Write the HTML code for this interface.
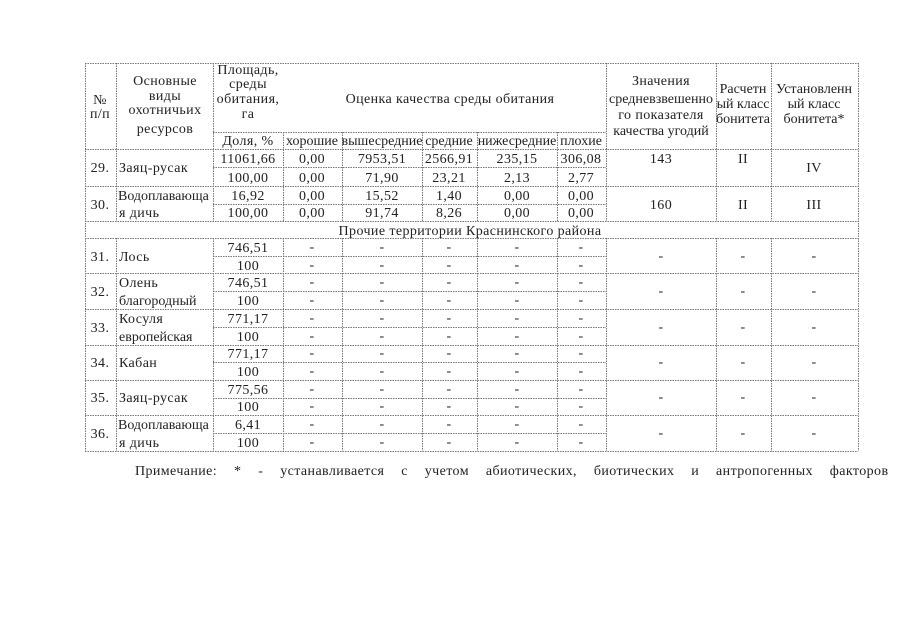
<!DOCTYPE html>
<html><head><meta charset="utf-8"><style>
html,body{margin:0;padding:0;background:#fff;}
svg{display:block;}
text{font-family:"Liberation Serif","DejaVu Serif",serif;font-size:14px;letter-spacing:0.4px;fill:#222;}
.c{text-anchor:middle;}
.t{letter-spacing:0;}
</style></head><body>
<svg width="905" height="640" viewBox="0 0 905 640" xmlns="http://www.w3.org/2000/svg">
<g stroke="#777" stroke-width="1" stroke-dasharray="1.5,1" fill="none">
<path d="M85 63.5H858M85 149.5H858M85 186.5H858M85 221.5H858M85 238.5H858M85 273.5H858M85 309.5H858M85 345.5H858M85 380.5H858M85 415.5H858M85 451.5H858"/>
<path d="M213 132.5H606M213 167.5H606M213 204.5H606M213 256.5H606M213 291.5H606M213 327.5H606M213 362.5H606M213 398.5H606M213 433.5H606"/>
<path d="M85.5 63V451M116.5 63V221M116.5 238V451M213.5 63V221M213.5 238V451M283.5 132V221M283.5 238V451M342.5 132V221M342.5 238V451M422.5 132V221M422.5 238V451M477.5 132V221M477.5 238V451M557.5 132V221M557.5 238V451M606.5 63V221M606.5 238V451M716.5 63V221M716.5 238V451M771.5 63V221M771.5 238V451M858.5 63V451"/>
</g>
<text class="c" x="100" y="104">№</text>
<text class="c" x="100" y="118">п/п</text>
<text class="c" x="165" y="85">Основные</text>
<text class="c" x="165" y="100">виды</text>
<text class="c" x="165" y="114">охотничьих</text>
<text class="c" x="165" y="133">ресурсов</text>
<text class="c" x="248" y="74">Площадь,</text>
<text class="c" x="248" y="88">среды</text>
<text class="c" x="248" y="103">обитания,</text>
<text class="c" x="248" y="118">га</text>
<text class="c" x="248" y="145">Доля, %</text>
<text class="c" x="450" y="103">Оценка качества среды обитания</text>
<text class="c t" x="312" y="145">хорошие</text>
<text class="c t" x="382" y="145">вышесредние</text>
<text class="c t" x="449" y="145">средние</text>
<text class="c t" x="517" y="145">нижесредние</text>
<text class="c t" x="581" y="145">плохие</text>
<text class="c" x="661" y="85">Значения</text>
<text class="c t" x="661" y="103">средневзвешенно</text>
<text class="c" x="661" y="119">го показателя</text>
<text class="c t" x="661" y="135">качества угодий</text>
<text class="c t" x="743" y="93">Расчетн</text>
<text class="c t" x="743" y="108">ый класс</text>
<text class="c t" x="743" y="123">бонитета</text>
<text class="c t" x="814" y="93">Установленн</text>
<text class="c t" x="814" y="108">ый класс</text>
<text class="c t" x="814" y="123">бонитета*</text>
<text class="c" x="100" y="172">29.</text>
<text x="119" y="172">Заяц-русак</text>
<text class="c" x="248" y="163">11061,66</text><text class="c" x="312" y="163">0,00</text><text class="c" x="382" y="163">7953,51</text><text class="c" x="449" y="163">2566,91</text><text class="c" x="517" y="163">235,15</text><text class="c" x="581" y="163">306,08</text>
<text class="c" x="248" y="182">100,00</text><text class="c" x="312" y="182">0,00</text><text class="c" x="382" y="182">71,90</text><text class="c" x="449" y="182">23,21</text><text class="c" x="517" y="182">2,13</text><text class="c" x="581" y="182">2,77</text>
<text class="c" x="661" y="163">143</text><text class="c" x="743" y="163">II</text><text class="c" x="814" y="172">IV</text>
<text class="c" x="100" y="209">30.</text>
<text x="118" y="200" class="t">Водоплавающа</text>
<text x="119" y="217">я дичь</text>
<text class="c" x="248" y="200">16,92</text><text class="c" x="312" y="200">0,00</text><text class="c" x="382" y="200">15,52</text><text class="c" x="449" y="200">1,40</text><text class="c" x="517" y="200">0,00</text><text class="c" x="581" y="200">0,00</text>
<text class="c" x="248" y="217">100,00</text><text class="c" x="312" y="217">0,00</text><text class="c" x="382" y="217">91,74</text><text class="c" x="449" y="217">8,26</text><text class="c" x="517" y="217">0,00</text><text class="c" x="581" y="217">0,00</text>
<text class="c" x="661" y="209">160</text><text class="c" x="743" y="209">II</text><text class="c" x="814" y="209">III</text>
<text class="c" x="470" y="235">Прочие территории Краснинского района</text>
<text class="c" x="100" y="261">31.</text><text x="119" y="261">Лось</text>
<text class="c" x="248" y="252">746,51</text><text class="c" x="248" y="270">100</text>
<text class="c" x="100" y="296">32.</text><text x="119" y="287">Олень</text><text x="119" y="305" class="t">благородный</text>
<text class="c" x="248" y="287">746,51</text><text class="c" x="248" y="305">100</text>
<text class="c" x="100" y="332">33.</text><text x="119" y="323">Косуля</text><text x="119" y="341" class="t">европейская</text>
<text class="c" x="248" y="323">771,17</text><text class="c" x="248" y="341">100</text>
<text class="c" x="100" y="367">34.</text><text x="119" y="367">Кабан</text>
<text class="c" x="248" y="358">771,17</text><text class="c" x="248" y="376">100</text>
<text class="c" x="100" y="402">35.</text><text x="119" y="402">Заяц-русак</text>
<text class="c" x="248" y="394">775,56</text><text class="c" x="248" y="411">100</text>
<text class="c" x="100" y="438">36.</text><text x="118" y="429" class="t">Водоплавающа</text><text x="119" y="447">я дичь</text>
<text class="c" x="248" y="429">6,41</text><text class="c" x="248" y="447">100</text>
<g style="font-size:9px">
<text class="c" x="312" y="251">-</text><text class="c" x="382" y="251">-</text><text class="c" x="449" y="251">-</text><text class="c" x="517" y="251">-</text><text class="c" x="581" y="251">-</text>
<text class="c" x="312" y="269">-</text><text class="c" x="382" y="269">-</text><text class="c" x="449" y="269">-</text><text class="c" x="517" y="269">-</text><text class="c" x="581" y="269">-</text>
<text class="c" x="312" y="286">-</text><text class="c" x="382" y="286">-</text><text class="c" x="449" y="286">-</text><text class="c" x="517" y="286">-</text><text class="c" x="581" y="286">-</text>
<text class="c" x="312" y="304">-</text><text class="c" x="382" y="304">-</text><text class="c" x="449" y="304">-</text><text class="c" x="517" y="304">-</text><text class="c" x="581" y="304">-</text>
<text class="c" x="312" y="322">-</text><text class="c" x="382" y="322">-</text><text class="c" x="449" y="322">-</text><text class="c" x="517" y="322">-</text><text class="c" x="581" y="322">-</text>
<text class="c" x="312" y="340">-</text><text class="c" x="382" y="340">-</text><text class="c" x="449" y="340">-</text><text class="c" x="517" y="340">-</text><text class="c" x="581" y="340">-</text>
<text class="c" x="312" y="357">-</text><text class="c" x="382" y="357">-</text><text class="c" x="449" y="357">-</text><text class="c" x="517" y="357">-</text><text class="c" x="581" y="357">-</text>
<text class="c" x="312" y="375">-</text><text class="c" x="382" y="375">-</text><text class="c" x="449" y="375">-</text><text class="c" x="517" y="375">-</text><text class="c" x="581" y="375">-</text>
<text class="c" x="312" y="393">-</text><text class="c" x="382" y="393">-</text><text class="c" x="449" y="393">-</text><text class="c" x="517" y="393">-</text><text class="c" x="581" y="393">-</text>
<text class="c" x="312" y="410">-</text><text class="c" x="382" y="410">-</text><text class="c" x="449" y="410">-</text><text class="c" x="517" y="410">-</text><text class="c" x="581" y="410">-</text>
<text class="c" x="312" y="428">-</text><text class="c" x="382" y="428">-</text><text class="c" x="449" y="428">-</text><text class="c" x="517" y="428">-</text><text class="c" x="581" y="428">-</text>
<text class="c" x="312" y="446">-</text><text class="c" x="382" y="446">-</text><text class="c" x="449" y="446">-</text><text class="c" x="517" y="446">-</text><text class="c" x="581" y="446">-</text>
<text class="c" x="661" y="260">-</text><text class="c" x="743" y="260">-</text><text class="c" x="814" y="260">-</text>
<text class="c" x="661" y="295">-</text><text class="c" x="743" y="295">-</text><text class="c" x="814" y="295">-</text>
<text class="c" x="661" y="331">-</text><text class="c" x="743" y="331">-</text><text class="c" x="814" y="331">-</text>
<text class="c" x="661" y="366">-</text><text class="c" x="743" y="366">-</text><text class="c" x="814" y="366">-</text>
<text class="c" x="661" y="401">-</text><text class="c" x="743" y="401">-</text><text class="c" x="814" y="401">-</text>
<text class="c" x="661" y="437">-</text><text class="c" x="743" y="437">-</text><text class="c" x="814" y="437">-</text>
</g>
<text x="135" y="475" style="word-spacing:13px">Примечание: * - устанавливается с учетом абиотических, биотических и антропогенных факторов</text>
</svg>
</body></html>
